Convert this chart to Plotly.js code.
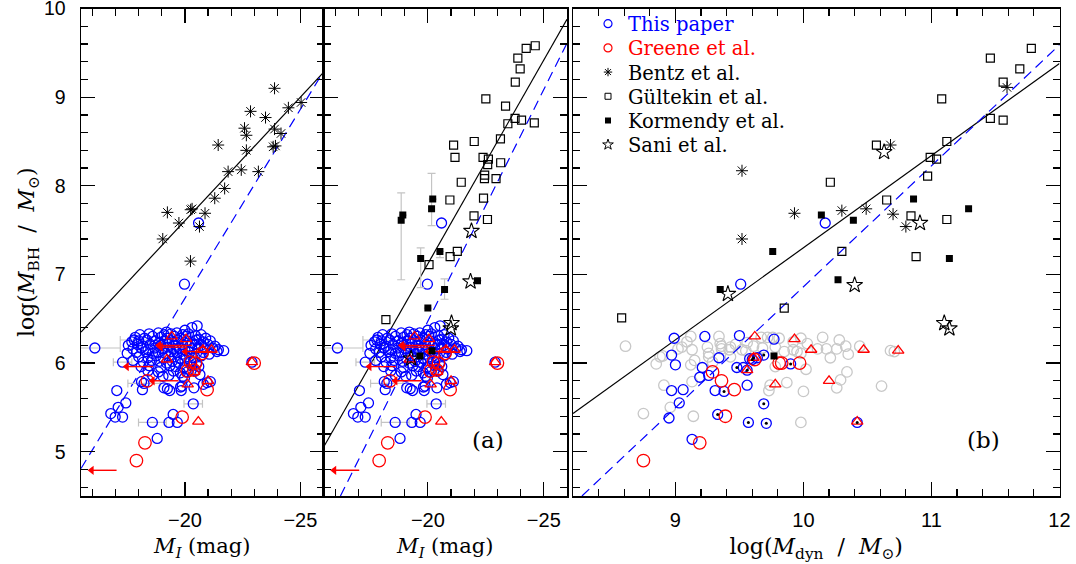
<!DOCTYPE html>
<html><head><meta charset="utf-8">
<script src="https://cdn.plot.ly/plotly-3.0.1.min.js"></script>
<style>html,body{margin:0;padding:0;background:#fff}</style>
</head><body><div id="chart" style="width:1076px;height:564px"></div>
<script>
// ---------------- DATA ----------------
// This paper (M_I, log M_BH) - panels 1 and 2
const blueMI = [
 -20.53,-17.05,-17.44,-17.11,-16.79,-16.98,-17.30,-19.31,-19.67,-19.49,-18.80,-19.09,-19.24,-18.16,-19.81,-20.96,-21.68,-21.39,-20.59,-19.98,-22.90,
 -20.39,-19.84,-19.34,-20.80,-21.10,-18.12,-19.05,-19.88,-19.98,
 -20.3,-20.0,-19.2,
 -18.05,-18.45,-18.85,-19.1,-19.4,-19.65,-19.9,-20.15,-20.45,-20.7,
 -17.85,-18.25,-18.6,-18.95,-19.25,-19.55,-19.8,-20.05,-20.6,-20.9,
 -17.7,-18.0,-18.35,-18.7,-18.85,-19.15,-19.45,-19.7,-20.1,-20.3,-20.5,-20.8,-21.1,
 -17.55,-17.95,-18.2,-18.5,-18.95,-19.3,-19.6,-19.9,-20.2,-20.45,-20.7,-21.0,-21.3,
 -17.75,-18.1,-18.4,-18.7,-19.05,-19.25,-19.5,-19.75,-20.0,-20.3,-20.55,-20.85,-21.2,-21.45,
 -17.5,-17.9,-18.3,-18.6,-18.85,-19.15,-19.4,-19.65,-19.9,-20.2,-20.5,-20.8,-21.05,
 -18.0,-18.4,-18.75,-19.05,-19.3,-19.55,-19.8,-20.05,-20.35,-20.7,
 -17.75,-18.2,-18.55,-18.9,-19.2,-19.45,-19.7,-20.0,-20.25,-20.5,
 -18.1,-18.45,-18.95,-19.35,-19.6,-19.95,-20.3,-20.6,
 -18.4,-18.85,-19.5,-19.8,-20.1,-20.45,
 -18.6,-19.3,-19.9,-20.65
];
const blueLogM = [
 6.42,5.69,5.55,5.50,5.43,5.39,5.39,5.33,5.33,5.42,5.15,5.72,5.71,5.70,5.73,5.78,6.14,6.13,7.58,6.89,6.01,
 5.72,5.69,5.69,5.76,5.79,5.79,5.85,5.74,5.83,
 6.40,6.37,6.35,
 6.32,6.33,6.34,6.32,6.33,6.34,6.32,6.33,6.31,6.32,
 6.29,6.28,6.30,6.29,6.28,6.30,6.28,6.30,6.27,6.28,
 6.24,6.25,6.26,6.25,6.22,6.25,6.24,6.26,6.25,6.23,6.26,6.24,6.25,
 6.20,6.21,6.19,6.21,6.20,6.21,6.20,6.21,6.19,6.21,6.20,6.21,6.19,
 6.16,6.17,6.15,6.17,6.16,6.18,6.16,6.17,6.15,6.16,6.17,6.16,6.17,6.15,
 6.11,6.12,6.13,6.11,6.12,6.11,6.13,6.12,6.10,6.12,6.11,6.12,6.10,
 6.07,6.06,6.08,6.06,6.08,6.07,6.05,6.07,6.06,6.08,
 6.03,6.01,6.03,6.02,6.00,6.02,6.01,6.03,6.02,6.00,
 5.96,5.97,5.95,5.97,5.96,5.95,5.97,5.96,
 5.91,5.90,5.91,5.89,5.90,5.91,
 5.86,5.86,5.85,5.87
];
// This paper points with horizontal error bars
const blueErrMI   = [-16.10,-17.80,-17.30,-18.23,-18.59,-20.36];
const blueErrLogM = [6.17,6.26,6.01,5.77,5.33,5.54];
const blueErrSize = [1.10,0.60,0.40,0.70,0.60,0.40];

// Greene et al. (M_I) circles and triangles
const greeneMI   = [-20.24,-20.46,-20.10,-20.39,-18.37,-20.96,-19.88,-18.27,-17.90,-20.74,-23.00];
const greeneLogM = [6.01,6.00,5.91,5.92,5.80,5.70,5.39,5.10,4.90,6.11,6.00];
const greeneTriMI   = [-19.43,-20.05,-19.22,-20.78,-21.15,-20.40,-20.12,-21.00,-20.58,-22.90];
const greeneTriLogM = [6.30,6.27,6.04,6.15,6.15,5.90,5.76,5.80,5.34,6.01];
// Greene upper-limit arrows (tail -> head in M_I)
const arrowTailMI = [-20.30,-20.10,-21.20,-18.62,-19.72,-17.04];
const arrowHeadMI = [-18.88,-18.95,-20.02,-17.48,-18.60,-15.96];
const arrowLogM   = [6.20,6.18,6.13,5.96,5.80,4.79];

// Bentz et al. (M_I)
const bentzMI = [-19.24,-19.04,-19.74,-20.25,-20.31,-20.63,-20.87,-20.24,-21.29,-21.72,-21.87,-21.44,-22.44,-22.66,-22.66,-22.58,-22.84,-23.18,-23.49,-23.82,-23.92,-23.88,-24.16,-23.88,-24.48,-25.03];
const bentzLogM = [7.70,7.40,7.58,7.73,7.74,7.54,7.69,7.15,7.86,7.97,8.16,8.46,8.18,8.40,8.57,8.65,8.84,8.16,8.77,8.44,8.45,8.64,8.59,9.10,8.88,8.94];

// Gultekin et al. (M_I)
const gultMI = [-24.63,-24.24,-23.88,-23.98,-23.77,-22.50,-23.35,-23.76,-24.04,-23.45,-24.59,-23.13,-21.11,-22.00,-21.17,-22.38,-22.61,-22.58,-23.14,-22.45,-22.44,-22.94,-21.44,-20.95,-22.40,-21.99,-22.57,-21.27,-20.96,-20.05,-18.19];
const gultLogM = [9.58,9.55,9.44,9.32,9.17,8.98,8.90,8.76,8.74,8.70,8.71,8.53,8.46,8.50,8.32,8.32,8.30,8.24,8.26,8.12,8.08,8.08,8.04,7.84,7.86,7.66,7.62,7.26,7.20,7.11,6.49];

// Kormendy et al. (M_I) with asymmetric errors
const kormMI = [-18.92,-18.85,-20.21,-20.16,-20.52,-19.69,-20.72,-22.14,-20.00,-20.18,-19.66];
const kormLogM = [7.67,7.61,7.85,7.74,7.26,7.18,6.83,6.93,6.62,6.14,6.08];
const kormErrPlus  = [0,0.31,0,0.40,0,0.12,0.12,0,0,0,0];
const kormErrMinus = [0,0.67,0,0.19,0.07,0.33,0.11,0,0,0,0];

// Sani et al. (M_I)
const saniMI = [-21.88,-21.84,-21.02,-20.99,-19.28];
const saniLogM = [7.49,6.92,6.45,6.39,6.05];

// ---- Panel (b): log M_dyn ----
const grayDyn = [8.61,8.75,8.91,8.85,8.90,8.96,9.02,9.05,9.09,9.12,9.13,9.14,9.15,9.12,9.25,9.26,9.26,9.29,9.34,9.35,9.36,9.42,9.43,9.47,9.55,9.52,9.56,9.61,9.67,9.68,9.72,9.73,9.74,9.76,9.78,9.78,9.81,9.85,9.87,9.92,9.92,9.95,9.98,9.98,10.00,9.98,10.02,10.03,10.11,10.15,10.18,10.21,10.26,10.28,10.29,10.26,10.34,10.33,10.35,10.44,10.61,10.68,10.71,9.13,9.43,9.36,8.88];
const grayLogM = [6.19,5.43,5.75,5.99,6.08,5.50,6.16,6.18,6.24,6.30,6.15,5.40,6.03,5.98,6.18,6.07,6.11,6.01,6.30,6.22,6.16,6.15,6.07,6.21,6.14,6.15,6.23,6.19,6.29,6.17,6.29,5.69,5.75,6.29,5.96,6.18,6.28,6.13,5.78,6.24,6.15,6.13,6.11,6.28,5.68,5.33,5.93,6.22,6.16,6.29,6.16,6.06,6.16,6.26,5.81,5.72,5.90,6.19,6.10,6.19,5.74,6.14,6.13,5.79,6.18,6.19,6.07];

const blueDyn = [8.99,9.23,9.50,9.77,8.97,9.00,9.34,9.21,9.19,9.26,9.48,9.53,9.60,9.64,9.69,9.90,9.56,9.31,9.38,8.97,9.06,9.03,8.95,9.33,9.69,9.57,9.71,9.13,10.42,10.17,9.51,9.56,9.58];
const blueDynLogM = [6.28,6.30,6.31,6.27,6.09,5.98,6.06,5.95,5.84,5.86,5.95,5.95,6.04,6.06,6.09,5.99,5.75,5.69,5.68,5.69,5.70,5.55,5.38,5.42,5.54,5.33,5.32,5.14,5.33,7.58,6.89,5.92,6.05];
const dotDyn = [9.48,9.60,9.69,9.90,9.38,9.33,9.69,9.57,9.71,10.42,9.56,9.61];
const dotLogM = [5.95,6.04,6.09,5.99,5.68,5.42,5.54,5.33,5.32,5.33,5.92,6.06];

const greeneDyn = [9.29,9.36,9.46,9.81,9.83,9.97,9.39,9.19,8.75,9.62];
const greeneDynLogM = [5.90,5.80,5.70,6.00,6.00,6.00,5.40,5.10,4.90,6.04];
const greeneTriDyn = [9.62,9.93,10.06,9.78,9.56,9.61,10.47,10.74,10.20,10.42];
const greeneTriDynLogM = [6.30,6.27,6.15,5.76,5.92,6.06,6.15,6.14,5.80,5.34];

const bentzDyn = [9.52,9.52,9.93,10.30,10.49,10.70,10.80,10.68,11.59];
const bentzDynLogM = [8.17,7.40,7.69,7.72,7.74,7.68,7.54,8.46,9.11];
const gultDyn = [11.78,11.46,11.69,11.56,11.08,11.46,11.56,11.12,10.57,10.99,11.04,10.97,10.21,10.65,10.84,11.12,10.30,10.88,9.85,8.58];
const gultDynLogM = [9.55,9.44,9.32,9.17,8.98,8.76,8.74,8.50,8.46,8.32,8.30,8.11,8.04,7.84,7.66,7.62,7.26,7.20,6.62,6.51];
const kormDyn = [10.86,11.29,10.14,10.39,9.76,11.14,10.27,9.35,9.77];
const kormDynLogM = [7.85,7.74,7.67,7.61,7.26,7.18,6.94,6.83,6.08];
const saniDyn = [10.63,10.91,10.40,9.41,11.10,11.14];
const saniDynLogM = [8.38,7.58,6.88,6.78,6.45,6.39];

// fitted relations (end points)
const fitA_solidX = [-15.5,-26], fitA_solidY = [6.35,9.28];
const fitA_dashX  = [-15.5,-26], fitA_dashY  = [4.81,9.29];
const fitB_solidX = [-15.5,-26], fitB_solidY = [5.05,9.88];
const fitB_dashX  = [-16.23,-26], fitB_dashY = [4.50,9.61];
const fitC_solidX = [8.2,12], fitC_solidY = [5.43,9.38];
const fitC_dashX  = [8.27,12], fitC_dashY = [4.50,9.59];

const legendNames = ['This paper','Greene et al.','Bentz et al.','Gültekin et al.','Kormendy et al.','Sani et al.'];

// ---------------- STYLE ----------------
const BLUE='#0000ff', RED='#ff0000', GRAY='#c8c8c8', BLACK='#000000';
const mk = {
  blue:{symbol:'circle-open',size:10,color:BLUE,line:{width:1.3,color:BLUE}},
  red:{symbol:'circle-open',size:12.5,color:RED,line:{width:1.3,color:RED}},
  tri:{symbol:'triangle-up-open',size:10,color:RED,line:{width:1.3,color:RED}},
  gray:{symbol:'circle-open',size:10.5,color:GRAY,line:{width:1.3,color:GRAY}},
  bentz:{symbol:'asterisk-open',size:10,color:BLACK,line:{width:1.0,color:BLACK}},
  gult:{symbol:'square-open',size:8,color:BLACK,line:{width:1.2,color:BLACK}},
  korm:{symbol:'square',size:7,color:BLACK,line:{width:0}},
  sani:{symbol:'star-open',size:12,color:BLACK,line:{width:1.1,color:BLACK}},
  dot:{symbol:'circle',size:3,color:BLACK,line:{width:0}},
  head:{symbol:'triangle-left',size:8,color:RED,line:{width:0}}
};
function pts(x,y,m,xa,ya,extra){
  return Object.assign({type:'scatter',mode:'markers',x:x,y:y,marker:m,xaxis:xa,yaxis:ya,showlegend:false,hoverinfo:'skip',cliponaxis:true},extra||{});
}
function line(x,y,xa,ya,dash,color){
  return {type:'scatter',mode:'lines',x:x,y:y,xaxis:xa,yaxis:ya,showlegend:false,hoverinfo:'skip',line:{color:color,width:1.2,dash:dash}};
}
const errX = {type:'data',symmetric:true,array:blueErrSize,color:'#c4c4c4',thickness:1.2,width:4};
const errK = {type:'data',symmetric:false,array:kormErrPlus,arrayminus:kormErrMinus,color:'#c4c4c4',thickness:1.2,width:4};

// arrow shafts as null-separated segments built from the arrow arrays
const shaftX = [], shaftY = [];
arrowTailMI.forEach((t,i)=>{ shaftX.push(t,arrowHeadMI[i],null); shaftY.push(arrowLogM[i],arrowLogM[i],null); });

const traces = [];
['x','x2'].forEach((xr,k)=>{
  const yr = k===0?'y':'y2';
  if(k===0){
    traces.push(line(fitA_solidX,fitA_solidY,xr,yr,'solid',BLACK));
    traces.push(line(fitA_dashX,fitA_dashY,xr,yr,'10px,6px',BLUE));
  } else {
    traces.push(line(fitB_solidX,fitB_solidY,xr,yr,'solid',BLACK));
    traces.push(line(fitB_dashX,fitB_dashY,xr,yr,'10px,6px',BLUE));
  }
  traces.push(pts(blueErrMI,blueErrLogM,mk.blue,xr,yr,{error_x:errX}));
  traces.push(pts(blueMI,blueLogM,mk.blue,xr,yr));
  traces.push(pts(greeneMI,greeneLogM,mk.red,xr,yr));
  traces.push(pts(greeneTriMI,greeneTriLogM,mk.tri,xr,yr));
  traces.push({type:'scatter',mode:'lines',x:shaftX,y:shaftY,xaxis:xr,yaxis:yr,showlegend:false,hoverinfo:'skip',connectgaps:false,line:{color:RED,width:1.4}});
  traces.push(pts(arrowHeadMI,arrowLogM,mk.head,xr,yr));
  if(k===0){
    traces.push(pts(bentzMI,bentzLogM,mk.bentz,xr,yr));
  } else {
    traces.push(pts(kormMI,kormLogM,mk.korm,xr,yr,{error_y:errK}));
    traces.push(pts(gultMI,gultLogM,mk.gult,xr,yr));
    traces.push(pts(saniMI,saniLogM,mk.sani,xr,yr));
  }
});
// panel 3
traces.push(pts(grayDyn,grayLogM,mk.gray,'x3','y3'));
traces.push(line(fitC_solidX,fitC_solidY,'x3','y3','solid',BLACK));
traces.push(line(fitC_dashX,fitC_dashY,'x3','y3','10px,6px',BLUE));
traces.push(pts(blueDyn,blueDynLogM,mk.blue,'x3','y3'));
traces.push(pts(greeneDyn,greeneDynLogM,mk.red,'x3','y3'));
traces.push(pts(greeneTriDyn,greeneTriDynLogM,mk.tri,'x3','y3'));
traces.push(pts(dotDyn,dotLogM,mk.dot,'x3','y3'));
traces.push(pts(bentzDyn,bentzDynLogM,mk.bentz,'x3','y3'));
traces.push(pts(gultDyn,gultDynLogM,mk.gult,'x3','y3'));
traces.push(pts(kormDyn,kormDynLogM,mk.korm,'x3','y3'));
traces.push(pts(saniDyn,saniDynLogM,mk.sani,'x3','y3'));

// legend entries, one legend per row to match the reference row spacing
const W=1076,H=564;
const legColors = [BLUE,RED,BLACK,BLACK,BLACK,BLACK];
const legRows = [24,48.2,72.4,96.6,120.8,145];
const legMarkers = [
  {symbol:'circle-open',size:8,color:BLUE,line:{width:1.2,color:BLUE}},
  {symbol:'circle-open',size:8,color:RED,line:{width:1.2,color:RED}},
  {symbol:'asterisk-open',size:7,color:BLACK,line:{width:1,color:BLACK}},
  {symbol:'square-open',size:6,color:BLACK,line:{width:1,color:BLACK}},
  {symbol:'square',size:6,color:BLACK},
  {symbol:'star-open',size:8,color:BLACK,line:{width:1,color:BLACK}}
];
const legendLayouts = {};
legendNames.forEach((n,i)=>{
  const key = i===0?'legend':'legend'+(i+1);
  traces.push({type:'scatter',mode:'markers',x:[null],y:[null],xaxis:'x3',yaxis:'y3',legend:key,
    name:'<span style="color:'+legColors[i]+'">'+n+'</span>',marker:legMarkers[i],showlegend:true,hoverinfo:'skip'});
  legendLayouts[key] = {x:588/W,y:1-legRows[i]/H,xanchor:'left',yanchor:'middle',bgcolor:'rgba(0,0,0,0)',borderwidth:0,
    font:{family:'DejaVu Serif',size:19.5,color:BLACK},itemsizing:'trace'};
});

// ---------------- LAYOUT ----------------
const yTop = 1-8.5/H, yBot = 1-496/H;
const tickFont = {family:'Liberation Sans',size:20,color:BLACK};
const titleFont = {family:'DejaVu Serif',size:21,color:BLACK};
const NB = '\u00a0';
function axisBase(){
  return {showline:true,linecolor:BLACK,linewidth:1.5,mirror:'allticks',ticks:'inside',ticklen:14,tickwidth:1.2,tickcolor:BLACK,
    showgrid:false,zeroline:false,fixedrange:true,tickfont:tickFont,ticklabeloverflow:'allow'};
}
const minorX = {dtick:1,tick0:0,ticklen:7,tickwidth:1.2,tickcolor:BLACK,ticks:'inside',showgrid:false};
const xa1 = Object.assign(axisBase(),{domain:[81/W,323.5/W],range:[-15.5,-26],anchor:'y',tickmode:'array',tickvals:[-20,-25],
  minor:minorX,ticklabelstandoff:5,
  title:{text:'<i>M</i><sub><i>I</i></sub> (mag)',font:titleFont,standoff:9}});
const xa2 = Object.assign(axisBase(),{domain:[323.5/W,567/W],range:[-15.5,-26],anchor:'y2',tickmode:'array',tickvals:[-20,-25],
  minor:minorX,ticklabelstandoff:5,
  title:{text:'<i>M</i><sub><i>I</i></sub> (mag)',font:titleFont,standoff:9}});
const xa3 = Object.assign(axisBase(),{domain:[573/W,1059.5/W],range:[8.2,12.0001],anchor:'y3',tickmode:'array',tickvals:[9,10,11,12],
  minor:{dtick:0.2,tick0:0,ticklen:7,tickwidth:1.2,tickcolor:BLACK,ticks:'inside',showgrid:false},ticklabelstandoff:5,
  title:{text:'log(<i>M</i><sub>dyn</sub>'+NB+NB+'/'+NB+NB+'<i>M</i><sub>⊙</sub>)',font:{family:'DejaVu Serif',size:22,color:BLACK},standoff:9}});
function ya(anchor,labels){
  return Object.assign(axisBase(),{domain:[yBot,yTop],range:[4.5,10.0005],anchor:anchor,tickmode:'array',tickvals:[5,6,7,8,9,10],
    showticklabels:labels,ticklabelstandoff:10,ticklabelshift:-2.5,tickfont:{family:'Liberation Sans',size:19.5,color:BLACK},
    minor:{dtick:0.2,tick0:0,ticklen:7,tickwidth:1.2,tickcolor:BLACK,ticks:'inside',showgrid:false}});
}
const ya1 = ya('x',true);
ya1.title = {text:'log(<i>M</i><sub>BH</sub>'+NB+NB+'/'+NB+NB+'<i>M</i><sub>⊙</sub>)',font:{family:'DejaVu Serif',size:22,color:BLACK},standoff:3};
const ya2 = ya('x2',false), ya3 = ya('x3',false);

const annotations = [
  {xref:'paper',yref:'paper',x:488/W,y:1-440/H,text:'(a)',showarrow:false,font:{family:'DejaVu Serif',size:23,color:BLACK},xanchor:'center',yanchor:'middle'},
  {xref:'paper',yref:'paper',x:983/W,y:1-440/H,text:'(b)',showarrow:false,font:{family:'DejaVu Serif',size:23,color:BLACK},xanchor:'center',yanchor:'middle'}
];

const layout = Object.assign({
  width:W,height:H,margin:{l:0,r:0,t:0,b:0},paper_bgcolor:'#fff',plot_bgcolor:'rgba(0,0,0,0)',
  showlegend:true,
  xaxis:xa1,xaxis2:xa2,xaxis3:xa3,yaxis:ya1,yaxis2:ya2,yaxis3:ya3,
  annotations:annotations
}, legendLayouts);
Plotly.newPlot('chart',traces,layout,{staticPlot:true,displayModeBar:false});
</script></body></html>
